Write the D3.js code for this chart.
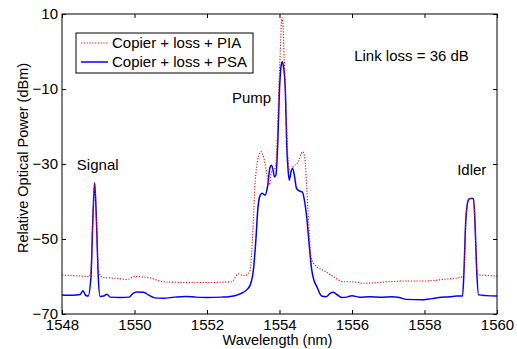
<!DOCTYPE html>
<html>
<head>
<meta charset="utf-8">
<script src="https://cdn.jsdelivr.net/npm/d3@7/dist/d3.min.js"></script>
<style>
  body { margin: 0; background: #fff; }
  svg text { font-family: "Liberation Sans", Arial, sans-serif; fill: #000; }
</style>
</head>
<body>
<svg id="chart" width="517" height="349"></svg>
<script>
// ---- Data ----
const xTicks = [1548, 1550, 1552, 1554, 1556, 1558, 1560];
const yTicks = [10, -10, -30, -50, -70];

const psaWl = [1548.0,1548.3,1548.5,1548.58,1548.65,1548.72,1548.8,1548.85,1548.9,1548.95,1549.0,1549.05,1549.15,1549.24,1549.33,1549.6,1549.85,1549.95,1550.05,1550.25,1550.4,1550.55,1550.8,1551.1,1551.4,1551.7,1552.0,1552.4,1552.6,1552.9,1553.1,1553.19,1553.28,1553.35,1553.4,1553.46,1553.52,1553.6,1553.67,1553.74,1553.78,1553.82,1553.86,1553.9,1553.95,1554.0,1554.05,1554.08,1554.11,1554.16,1554.2,1554.24,1554.27,1554.32,1554.36,1554.41,1554.47,1554.55,1554.63,1554.7,1554.76,1554.8,1554.89,1554.95,1555.03,1555.16,1555.28,1555.4,1555.48,1555.58,1555.72,1555.85,1556.0,1556.2,1556.5,1556.8,1557.1,1557.3,1557.5,1557.97,1558.2,1558.4,1558.7,1558.89,1559.05,1559.09,1559.14,1559.21,1559.26,1559.35,1559.39,1559.44,1559.49,1559.7,1560.0];
const psaPow = [-64.9,-65.0,-64.8,-63.8,-65.0,-65.2,-60,-45,-35,-45,-60,-65.3,-65.2,-64.7,-65.5,-65.6,-65.5,-64.6,-64.1,-64.2,-65.0,-65.7,-65.8,-65.5,-65.3,-65.5,-65.6,-65.5,-65.4,-64.7,-63.5,-62.3,-58.3,-50,-42.3,-38.5,-37.8,-38.3,-36,-30.8,-30.3,-31.5,-33.4,-33,-25,-10,-3.5,-2.7,-4,-10,-25,-32,-34.3,-32,-31.1,-33,-36.5,-37.2,-37.5,-40.4,-45,-49.4,-58.3,-61,-62.7,-65.2,-65.4,-64.5,-64.2,-64.8,-65.6,-65.5,-65.1,-65.5,-65.4,-65.5,-65.4,-65.6,-66.1,-66.2,-65.9,-65.6,-65.4,-65.2,-65.2,-58.3,-44.9,-39.6,-39.2,-39.2,-44.9,-58.3,-64.9,-65.1,-65.2];

const piaWl = [1548.0,1548.4,1548.75,1548.8,1548.85,1548.9,1548.95,1549.0,1549.1,1549.5,1549.8,1550.0,1550.2,1550.4,1550.8,1551.0,1551.5,1552.0,1552.68,1552.87,1552.95,1553.05,1553.19,1553.23,1553.28,1553.32,1553.37,1553.45,1553.49,1553.56,1553.65,1553.72,1553.79,1553.88,1553.93,1553.98,1554.03,1554.06,1554.09,1554.13,1554.18,1554.23,1554.29,1554.38,1554.52,1554.6,1554.64,1554.7,1554.75,1554.8,1554.84,1554.89,1555.03,1555.2,1555.48,1555.76,1556.0,1556.3,1557.0,1557.5,1558.0,1558.5,1559.0,1559.06,1559.09,1559.14,1559.21,1559.26,1559.35,1559.39,1559.44,1559.49,1559.7,1560.0];
const piaPow = [-59.6,-59.8,-60.0,-58,-45,-35,-45,-58,-60.2,-60.5,-60.8,-60.0,-60.1,-60.3,-61.4,-61.5,-61.6,-61.6,-61.4,-59.3,-59.6,-59.8,-58.3,-53.8,-44.9,-36.1,-30.7,-27.2,-26.7,-28.1,-32.5,-35.6,-31.6,-31.1,-25,-10,2,9,8,-2,-15,-28,-32,-30.7,-29.4,-27.2,-26.7,-28.5,-36,-44.9,-52,-55.6,-57.4,-58.3,-60,-61.4,-61.4,-61.8,-61.4,-61.2,-61.2,-60.8,-60.2,-60,-58.3,-44.9,-39.6,-39.2,-39.2,-44.9,-58.3,-59.6,-59.7,-59.9];

const seriesNames = ["Copier + loss + PIA", "Copier + loss + PSA"];
const annotations = [
  {text: "Link loss = 36 dB", x: 1556.06, y: -2.5},
  {text: "Pump", x: 1552.69, y: -13.7},
  {text: "Signal", x: 1548.41, y: -31.6},
  {text: "Idler", x: 1558.9, y: -32.9}
];

// ---- Layout ----
const svg = d3.select("#chart");
const m = {left: 62, top: 14, right: 497, bottom: 314};

const x = d3.scaleLinear().domain([1548, 1560]).range([m.left, m.right]);
const y = d3.scaleLinear().domain([-70, 10]).range([m.bottom, m.top]);

svg.append("defs").append("clipPath").attr("id", "clip")
  .append("rect").attr("x", m.left).attr("y", m.top)
  .attr("width", m.right - m.left).attr("height", m.bottom - m.top);

const toPts = (wl, p) => wl.map((w, i) => [w, p[i]]);
const line = d3.line().x(d => x(d[0])).y(d => y(d[1])).curve(d3.curveMonotoneX);

const plot = svg.append("g").attr("clip-path", "url(#clip)");
plot.append("path").datum(toPts(psaWl, psaPow))
  .attr("d", line).attr("fill", "none").attr("stroke", "#0000ff").attr("stroke-width", 1.5);
plot.append("path").datum(toPts(piaWl, piaPow))
  .attr("d", line).attr("fill", "none").attr("stroke", "#ff0000").attr("stroke-width", 1.1)
  .attr("stroke-dasharray", "1.2,1.6");

// ---- Axes ----
const fmt = d3.format("d");
const axB = d3.axisBottom(x).tickValues(xTicks).tickSize(-4).tickSizeOuter(0).tickPadding(5).tickFormat(fmt);
const axT = d3.axisTop(x).tickValues(xTicks).tickSize(-4).tickSizeOuter(0).tickFormat("");
const axL = d3.axisLeft(y).tickValues(yTicks).tickSize(-4).tickSizeOuter(0).tickPadding(4).tickFormat(fmt);
const axR = d3.axisRight(y).tickValues(yTicks).tickSize(-4).tickSizeOuter(0).tickFormat("");

function style(g) {
  g.selectAll(".domain").remove();
  g.selectAll("line").attr("stroke", "#000");
  g.selectAll("text").attr("font-size", 15).attr("fill", "#000")
    .style("font-family", '"Liberation Sans", Arial, sans-serif');
}
svg.append("g").attr("transform", `translate(0,${m.bottom})`).call(axB).call(style);
svg.append("g").attr("transform", `translate(0,${m.top})`).call(axT).call(style);
svg.append("g").attr("transform", `translate(${m.left},0)`).call(axL).call(style);
svg.append("g").attr("transform", `translate(${m.right},0)`).call(axR).call(style);

svg.append("rect").attr("x", m.left).attr("y", m.top)
  .attr("width", m.right - m.left).attr("height", m.bottom - m.top)
  .attr("fill", "none").attr("stroke", "#000").attr("stroke-width", 1);

// ---- Axis labels ----
svg.append("text").attr("x", (m.left + m.right) / 2 - 2).attr("y", 345)
  .attr("text-anchor", "middle").attr("font-size", 14.5).text("Wavelength (nm)");
svg.append("text").attr("transform", `translate(28,158) rotate(-90)`)
  .attr("text-anchor", "middle").attr("font-size", 14.5).text("Relative Optical Power (dBm)");

// ---- Annotations ----
annotations.forEach(a => {
  svg.append("text").attr("x", x(a.x)).attr("y", y(a.y))
    .attr("font-size", 15).text(a.text);
});

// ---- Legend ----
const lg = svg.append("g");
lg.append("rect").attr("x", 76).attr("y", 33).attr("width", 177).attr("height", 40)
  .attr("fill", "#fff").attr("stroke", "#000").attr("stroke-width", 1);
const legStyles = [
  {color: "#ff0000", width: 1.1, dash: "1.2,1.6"},
  {color: "#0000ff", width: 1.5, dash: null}
];
seriesNames.forEach((n, i) => {
  const yy = 43 + i * 19;
  lg.append("line").attr("x1", 81).attr("x2", 108).attr("y1", yy).attr("y2", yy)
    .attr("stroke", legStyles[i].color).attr("stroke-width", legStyles[i].width)
    .attr("stroke-dasharray", legStyles[i].dash);
  lg.append("text").attr("x", 112).attr("y", yy + 5).attr("font-size", 15).text(n);
});
</script>
</body>
</html>
